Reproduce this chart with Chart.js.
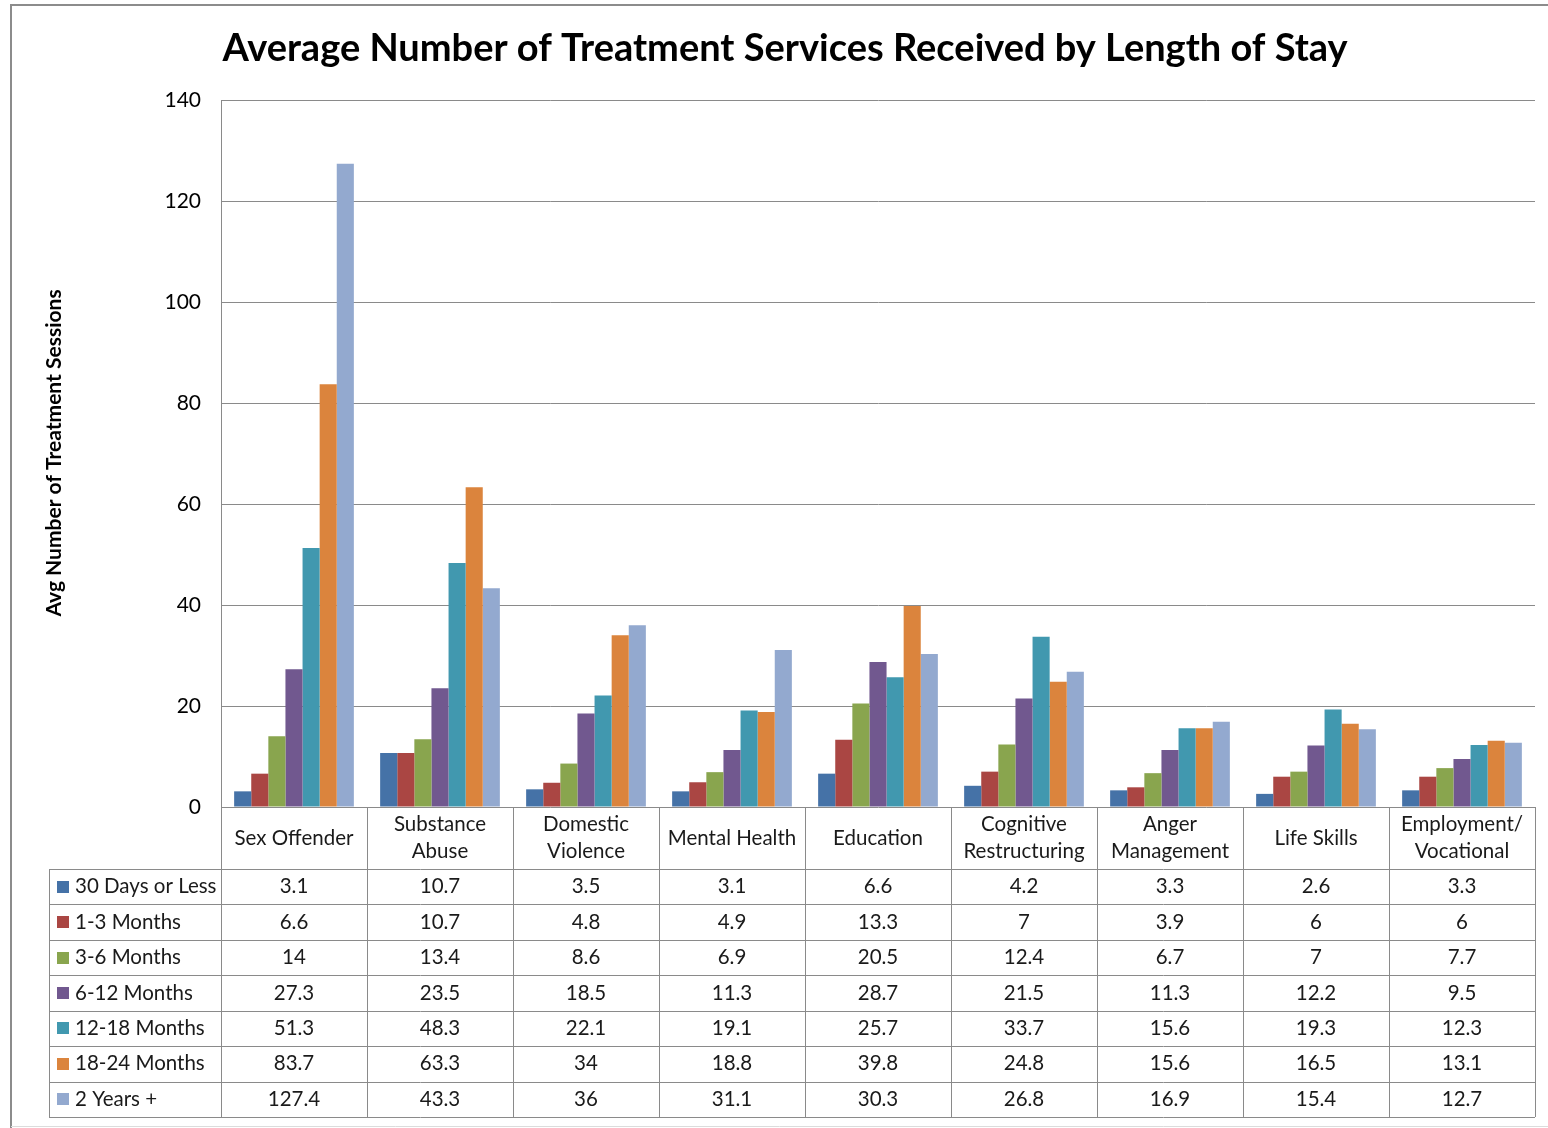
<!DOCTYPE html>
<html>
<head>
<meta charset="utf-8">
<script src="https://cdn.jsdelivr.net/npm/chart.js@4/dist/chart.umd.min.js"></script>
<style>
  html, body { margin: 0; padding: 0; background: #fff; }
  canvas { display: block; }
</style>
</head>
<body>
<canvas id="c" width="1548" height="1128"></canvas>
<script>
// Service categories (multi-line labels as shown in the table header)
const categories = [
  ["Sex Offender"], ["Substance", "Abuse"], ["Domestic", "Violence"], ["Mental Health"],
  ["Education"], ["Cognitive", "Restructuring"], ["Anger", "Management"], ["Life Skills"],
  ["Employment/", "Vocational"]
];
const seriesNames = ["30 Days or Less", "1-3 Months", "3-6 Months", "6-12 Months", "12-18 Months", "18-24 Months", "2 Years +"];

// Average number of sessions per length-of-stay group
const days30OrLess = [3.1, 10.7, 3.5, 3.1, 6.6, 4.2, 3.3, 2.6, 3.3];
const months1to3   = [6.6, 10.7, 4.8, 4.9, 13.3, 7, 3.9, 6, 6];
const months3to6   = [14, 13.4, 8.6, 6.9, 20.5, 12.4, 6.7, 7, 7.7];
const months6to12  = [27.3, 23.5, 18.5, 11.3, 28.7, 21.5, 11.3, 12.2, 9.5];
const months12to18 = [51.3, 48.3, 22.1, 19.1, 25.7, 33.7, 15.6, 19.3, 12.3];
const months18to24 = [83.7, 63.3, 34, 18.8, 39.8, 24.8, 15.6, 16.5, 13.1];
const years2Plus   = [127.4, 43.3, 36, 31.1, 30.3, 26.8, 16.9, 15.4, 12.7];

const yTicks = [0, 20, 40, 60, 80, 100, 120, 140];

const seriesValues = [days30OrLess, months1to3, months3to6, months6to12, months12to18, months18to24, years2Plus];
const seriesColors = ['#4572A7', '#AA4643', '#89A54E', '#71588F', '#4198AF', '#DB843D', '#93A9CF'];

const FONT = 'Lato, "Open Sans", sans-serif';
const GRID = '#8a8a8a';
const TEXT = '#1a1a1a';

// Draws frame, title, axis title and the data table under the plot
const dataTablePlugin = {
  id: 'dataTable',
  beforeDraw(chart) {
    const ctx = chart.ctx;
    ctx.save();
    ctx.fillStyle = '#fff';
    ctx.fillRect(0, 0, chart.width, chart.height);
    ctx.restore();
  },
  afterDraw(chart) {
    const ctx = chart.ctx;
    const area = chart.chartArea;
    const xs = chart.scales.x;
    const n = categories.length;
    const cw = xs.getPixelForValue(1) - xs.getPixelForValue(0);
    const headerBottom = area.bottom + 62;
    const rowH = 35.43;
    const tableBottom = headerBottom + rowH * seriesNames.length;
    const legendLeft = 49;
    const px = v => Math.round(v) + 0.5;

    ctx.save();
    // outer frame
    ctx.strokeStyle = '#8c8c8c';
    ctx.lineWidth = 2;
    ctx.beginPath();
    ctx.moveTo(11, chart.height);
    ctx.lineTo(11, 5);
    ctx.lineTo(chart.width, 5);
    ctx.stroke();
    ctx.strokeStyle = '#dcdcdc';
    ctx.lineWidth = 1;
    ctx.beginPath();
    ctx.moveTo(11, 1126.5);
    ctx.lineTo(chart.width, 1126.5);
    ctx.stroke();

    // title
    ctx.fillStyle = '#000';
    ctx.font = 'bold 38px ' + FONT;
    ctx.textAlign = 'center';
    ctx.textBaseline = 'middle';
    ctx.fillText('Average Number of Treatment Services Received by Length of Stay', 785, 49);

    // y-axis title
    ctx.save();
    ctx.translate(54, 453);
    ctx.rotate(-Math.PI / 2);
    ctx.font = 'bold 21px ' + FONT;
    ctx.fillText('Avg Number of Treatment Sessions', 0, 0);
    ctx.restore();

    // table grid
    ctx.strokeStyle = GRID;
    ctx.lineWidth = 1;
    for (let r = 0; r <= seriesNames.length; r++) {
      const y = px(headerBottom + r * rowH);
      ctx.beginPath();
      ctx.moveTo(legendLeft, y);
      ctx.lineTo(area.right, y);
      ctx.stroke();
    }
    for (let i = 0; i <= n; i++) {
      const x = px(xs.getPixelForValue(0) - cw / 2 + i * cw);
      ctx.beginPath();
      ctx.moveTo(x, area.bottom);
      ctx.lineTo(x, tableBottom);
      ctx.stroke();
    }
    ctx.beginPath();
    ctx.moveTo(px(legendLeft), headerBottom);
    ctx.lineTo(px(legendLeft), tableBottom);
    ctx.stroke();

    // category labels
    ctx.fillStyle = TEXT;
    ctx.font = '20.5px ' + FONT;
    ctx.textAlign = 'center';
    ctx.textBaseline = 'middle';
    const headMid = (area.bottom + headerBottom) / 2;
    categories.forEach((lines, i) => {
      const cx = xs.getPixelForValue(i);
      const lh = 27;
      const y0 = headMid - (lines.length - 1) * lh / 2;
      lines.forEach((t, k) => ctx.fillText(t, cx, y0 + k * lh));
    });

    // rows: legend keys + values
    seriesNames.forEach((name, r) => {
      const yMid = headerBottom + r * rowH + rowH / 2;
      ctx.fillStyle = seriesColors[r];
      ctx.fillRect(57, Math.round(yMid - 6), 12, 12);
      ctx.fillStyle = TEXT;
      ctx.textAlign = 'left';
      ctx.fillText(name, 75, yMid);
      ctx.textAlign = 'center';
      seriesValues[r].forEach((v, i) => {
        ctx.fillText(String(v), xs.getPixelForValue(i), yMid);
      });
    });
    ctx.restore();
  }
};

new Chart(document.getElementById('c'), {
  type: 'bar',
  data: {
    labels: categories.map(l => l.join(' ')),
    datasets: seriesNames.map((name, i) => ({
      label: name,
      data: seriesValues[i],
      backgroundColor: seriesColors[i],
      borderWidth: 0,
      categoryPercentage: 0.82,
      barPercentage: 1.0
    }))
  },
  options: {
    responsive: false,
    animation: false,
    layout: { padding: { left: 0, top: 100, right: 13, bottom: 321 } },
    plugins: {
      legend: { display: false },
      title: { display: false },
      tooltip: { enabled: false }
    },
    scales: {
      x: { display: false, offset: true },
      y: {
        min: 0,
        max: 140,
        afterBuildTicks(scale) { scale.ticks = yTicks.map(v => ({ value: v })); },
        afterFit(scale) { scale.width = 221; },
        ticks: { color: '#000', font: { family: FONT, size: 21 }, padding: 20 },
        grid: { color: GRID, drawTicks: false },
        border: { display: true, color: GRID }
      }
    }
  },
  plugins: [dataTablePlugin]
});
</script>
</body>
</html>
